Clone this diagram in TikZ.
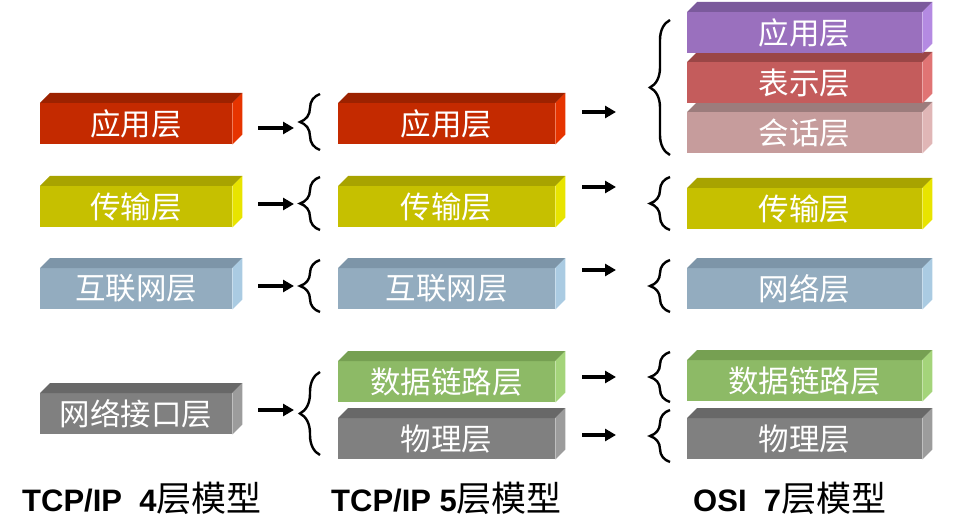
\documentclass[tikz,border=0pt]{standalone}
\usepackage{fontspec}
\setmainfont{Liberation Sans}
\newfontfamily\cjk{Noto Sans CJK SC}
\usetikzlibrary{arrows.meta,decorations.pathreplacing}

\definecolor{redF}{HTML}{C42A00}\definecolor{redT}{HTML}{9C2200}\definecolor{redS}{HTML}{E63400}
\definecolor{yelF}{HTML}{C6C000}\definecolor{yelT}{HTML}{A8A300}\definecolor{yelS}{HTML}{E8E400}
\definecolor{bluF}{HTML}{93ACBF}\definecolor{bluT}{HTML}{7D95A8}\definecolor{bluS}{HTML}{AACBE2}
\definecolor{graF}{HTML}{808080}\definecolor{graT}{HTML}{686868}\definecolor{graS}{HTML}{9C9C9C}
\definecolor{greF}{HTML}{8DBA66}\definecolor{greT}{HTML}{76A052}\definecolor{greS}{HTML}{A4D47A}
\definecolor{purF}{HTML}{9A70BE}\definecolor{purT}{HTML}{7B5A9C}\definecolor{purS}{HTML}{B48AE2}
\definecolor{rosF}{HTML}{C45C5C}\definecolor{rosT}{HTML}{9A4646}\definecolor{rosS}{HTML}{E07474}
\definecolor{pnkF}{HTML}{C69C9C}\definecolor{pnkT}{HTML}{9C7C7C}\definecolor{pnkS}{HTML}{E0B6B6}

\tikzset{
  layerfront/.style={rectangle, inner sep=0pt, minimum height=41pt, text=white,
    font=\cjk\fontsize{30.5}{30.5}\selectfont},
  arr/.style={line width=3.5pt, -{Triangle[length=11pt,width=12pt]}},
  brc/.style={line width=2.4pt, decorate, decoration={brace, amplitude=20pt}},
  caption/.style={anchor=base west, inner sep=0pt, font=\fontsize{31}{31}\selectfont\bfseries},
}

% #1 name, #2 x, #3 y of front top, #4 width, #5 colour prefix, #6 text
\newcommand\layerbox[6]{%
  \node[layerfront, fill=#5F, minimum width=#4pt, anchor=north west] (#1) at (#2,#3) {#6};
  \fill[#5T] (#1.north west) -- ([shift={(10pt,10pt)}]#1.north west)
     -- ([shift={(10pt,10pt)}]#1.north east) -- (#1.north east) -- cycle;
  \fill[#5S] (#1.north east) -- ([shift={(10pt,10pt)}]#1.north east)
     -- ([shift={(10pt,10pt)}]#1.south east) -- (#1.south east) -- cycle;
}
\newcommand\capcjk[1]{{\cjk\mdseries\fontsize{35}{35}\selectfont #1}}

\begin{document}
\begin{tikzpicture}[x=1pt,y=-1pt]
\useasboundingbox (0,0) rectangle (962,532);

% column 1
\layerbox{a1}{40}{103}{192}{red}{应用层}
\layerbox{a2}{40}{186}{192}{yel}{传输层}
\layerbox{a3}{40}{268}{192}{blu}{互联网层}
\layerbox{a4}{40}{393}{192}{gra}{网络接口层}

% column 2
\layerbox{b1}{338}{103}{217}{red}{应用层}
\layerbox{b2}{338}{186}{217}{yel}{传输层}
\layerbox{b3}{338}{268}{217}{blu}{互联网层}
\layerbox{b4}{338}{361}{217}{gre}{数据链路层}
\layerbox{b5}{338}{418}{217}{gra}{物理层}

% column 3
\layerbox{c7}{687}{112}{235}{pnk}{会话层}
\layerbox{c6}{687}{62}{235}{ros}{表示层}
\layerbox{c5}{687}{12}{235}{pur}{应用层}
\layerbox{c4}{687}{188}{235}{yel}{传输层}
\layerbox{c3}{687}{268}{235}{blu}{网络层}
\layerbox{c2}{687}{360}{235}{gre}{数据链路层}
\layerbox{c1}{687}{418}{235}{gra}{物理层}

% arrows col1 -> col2
\coordinate (p1) at (258,128); \coordinate (q1) at (294,128);
\coordinate (p2) at (258,204); \coordinate (q2) at (294,204);
\coordinate (p3) at (258,286); \coordinate (q3) at (294,286);
\coordinate (p4) at (258,410); \coordinate (q4) at (294,410);
\foreach \i in {1,...,4} \draw[arr] (p\i) -- (q\i);

% braces col1 -> col2
\draw[brc] (320,150) -- (320,94);
\draw[brc] (320,230) -- (320,177);
\draw[brc] (320,312) -- (320,260);
\draw[brc] (320,455) -- (320,372);

% arrows col2 -> col3
\coordinate (r1) at (582,112); \coordinate (s1) at (616,112);
\coordinate (r2) at (582,187); \coordinate (s2) at (616,187);
\coordinate (r3) at (582,270); \coordinate (s3) at (616,270);
\coordinate (r4) at (582,377); \coordinate (s4) at (616,377);
\coordinate (r5) at (582,435); \coordinate (s5) at (616,435);
\foreach \i in {1,...,5} \draw[arr] (r\i) -- (s\i);

% braces col3
\draw[brc] (670,155) -- (670,20);
\draw[brc] (670,230) -- (670,177);
\draw[brc] (670,312) -- (670,260);
\draw[brc] (670,402) -- (670,352);
\draw[brc] (670,462) -- (670,410);

% captions
\node[caption] (t1) at (22,511) {TCP/IP\ \ 4\capcjk{层模型}};
\node[caption] (t2) at (331,511) {TCP/IP 5\capcjk{层模型}};
\node[caption] (t3) at (693,511) {OSI\ \ 7\capcjk{层模型}};
\end{tikzpicture}
\end{document}
